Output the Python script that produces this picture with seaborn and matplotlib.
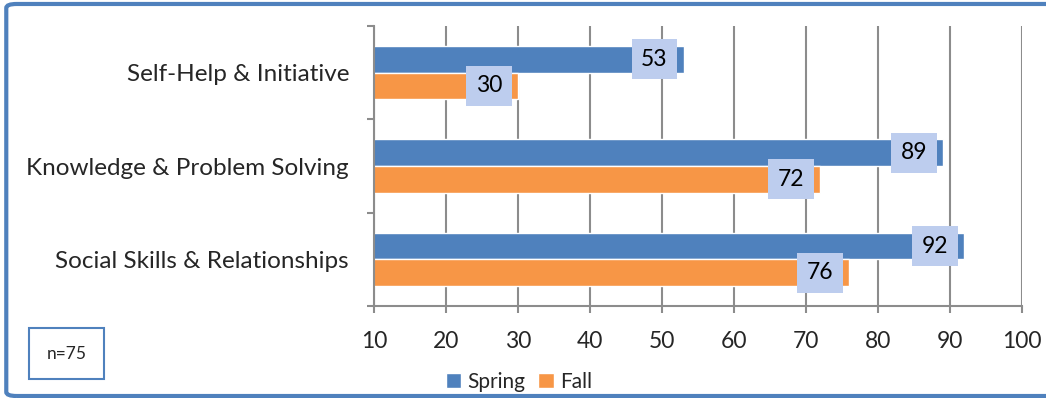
import numpy as np
import pandas as pd
import matplotlib.pyplot as plt
import seaborn as sns
from matplotlib.patches import FancyBboxPatch

# data
categories = ['Self-Help & Initiative', 'Knowledge & Problem Solving', 'Social Skills & Relationships']
spring = [53, 89, 92]
fall = [30, 72, 76]
seasons = ['Spring', 'Fall']
colors = ['#4F81BD', '#F79646']
x_ticks = [10, 20, 30, 40, 50, 60, 70, 80, 90, 100]
note = 'n=75'

df = pd.DataFrame({
    'Category': categories * 2,
    'Score': spring + fall,
    'Season': ['Spring'] * len(categories) + ['Fall'] * len(categories),
})

sns.set_style('white')
plt.rcParams['font.family'] = ['Lato', 'DejaVu Sans']

fig = plt.figure(figsize=(10.46, 3.98), dpi=100)
ax = fig.add_axes([0.3576, 0.231, 0.6195, 0.7037])

sns.barplot(data=df, y='Category', x='Score', hue='Season', order=categories,
            hue_order=seasons, palette=colors, width=0.57, orient='h',
            saturation=1, ax=ax, legend=True)

ax.set_xlim(10, 100)
ax.set_ylim(2.5, -0.5)
ax.set_xticks(x_ticks)
ax.set_xlabel('')
ax.set_ylabel('')
ax.xaxis.grid(True, color='#8c8c8c', linewidth=1.5)
ax.set_axisbelow(True)
for s in ['top', 'right']:
    ax.spines[s].set_visible(False)
for s in ['left', 'bottom']:
    ax.spines[s].set_color('#8c8c8c')
    ax.spines[s].set_linewidth(1.5)

ax.tick_params(axis='x', length=5, width=1.5, color='#8c8c8c', pad=13, labelsize=16.5, direction='out', bottom=True)
ax.tick_params(axis='y', which='major', length=0, pad=18, labelsize=17.5)
ax.set_yticks([-0.5, 0.5, 1.5, 2.5], minor=True)
ax.tick_params(axis='y', which='minor', length=5, width=1.5, color='#8c8c8c', left=True, direction='out')

# value labels
for cont in ax.containers:
    for bar in cont:
        w = bar.get_width()
        yc = bar.get_y() + bar.get_height() / 2
        ax.annotate(f'{w:.0f}', xy=(w, yc), xytext=(-21, 0), textcoords='offset points',
                    ha='center', va='center', fontsize=16.5, color='black',
                    bbox=dict(boxstyle='square,pad=0.42', facecolor='#bdcdee', edgecolor='none'))

# legend
handles, labels = ax.get_legend_handles_labels()
ax.get_legend().remove()
fig.legend(handles, labels, loc='center', bbox_to_anchor=(0.496, 0.04), ncol=2, frameon=False,
           fontsize=15, handlelength=0.75, handleheight=0.75, handletextpad=0.3, columnspacing=0.6,
           borderaxespad=0)

# n box
fig.text(0.0635, 0.111, note, fontsize=12.5, ha='center', va='center',
         bbox=dict(boxstyle='square,pad=1.0', facecolor='white', edgecolor='#4F81BD', linewidth=1.5))

# chart border
fig.patches.append(FancyBboxPatch((0.006, 0.005), 1.1, 0.985, boxstyle='round,pad=0,rounding_size=0.01',
                                  transform=fig.transFigure, facecolor='none', edgecolor='#4F81BD',
                                  linewidth=3, zorder=-1))

fig.savefig('out.png', dpi=100)
